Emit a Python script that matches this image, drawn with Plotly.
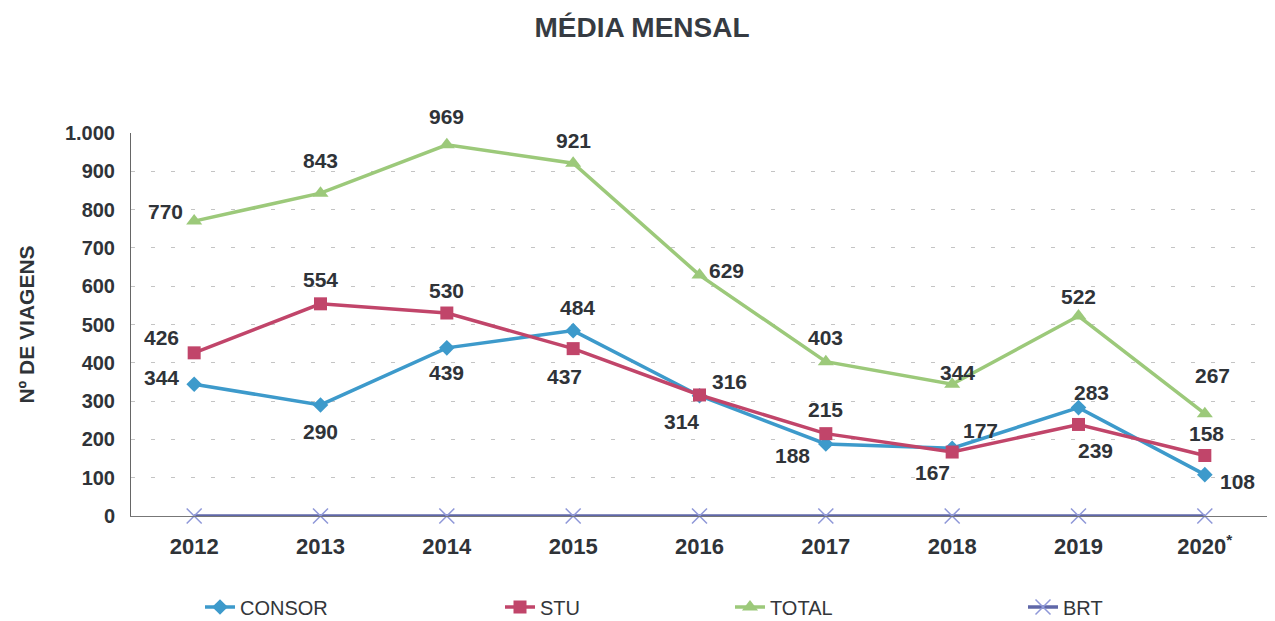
import plotly.graph_objects as go

years = [2012, 2013, 2014, 2015, 2016, 2017, 2018, 2019, 2020]
year_labels = ["2012", "2013", "2014", "2015", "2016", "2017", "2018", "2019", "2020<sup>*</sup>"]
consor = [344, 290, 439, 484, 314, 188, 177, 283, 108]
stu = [426, 554, 530, 437, 316, 215, 167, 239, 158]
total = [770, 843, 969, 921, 629, 403, 344, 522, 267]
brt = [0, 0, 0, 0, 0, 0, 0, 0, 0]

# label offsets in pixels (dx, dy up)
consor_off = [(-33, 7), (0, -27), (0, -25), (4, 23), (-18, -26), (-33, -11), (28, 18), (13, 15), (33, -7)]
stu_off = [(-33, 15), (0, 24), (0, 23), (-9, -28), (30, 13), (0, 24), (-20, -20), (17, -26), (2, 22)]
total_off = [(-29, 10), (0, 33), (0, 28), (0, 23), (27, 5), (0, 24), (5, 12), (0, 20), (8, 38)]

C_CONSOR = "#3d9acb"
C_STU = "#c1456a"
C_TOTAL = "#9cc97a"
C_BRT = "#5f67a8"
TXT = "#2f3338"
FONT = "Liberation Sans, Arial, sans-serif"

W, H = 1267, 613
L, R, T, B = 123, 7, 125, 105
PW, PH = W - L - R, H - T - B

fig = go.Figure()

series = [
    ("CONSOR", consor, C_CONSOR, dict(symbol="diamond", size=12), "legend"),
    ("STU", stu, C_STU, dict(symbol="square", size=13), "legend2"),
    ("TOTAL", total, C_TOTAL, dict(symbol="triangle-up", size=14), "legend3"),
    ("BRT", brt, C_BRT, dict(symbol="x-thin", size=15, line=dict(width=1.5, color="#8f98d8")), "legend4"),
]
for name, vals, col, mk, lg in series:
    fig.add_trace(go.Scatter(
        x=years, y=vals, name=name, mode="lines+markers",
        line=dict(color=col, width=3.5),
        marker=dict(color=col, **mk),
        legend=lg, cliponaxis=False, showlegend=True,
    ))

anns = []
for vals, offs in [(total, total_off), (stu, stu_off), (consor, consor_off)]:
    for yr, v, (dx, dy) in zip(years, vals, offs):
        anns.append(dict(
            x=yr, y=v, xref="x", yref="y", text=str(v), showarrow=False,
            xshift=dx, yshift=dy,
            font=dict(family=FONT, size=21, color=TXT, weight="bold"),
        ))


def leg(px):
    return dict(
        orientation="h", xref="paper", yref="paper",
        x=(px - L) / PW, xanchor="left",
        y=(H - B - 599) / PH, yanchor="middle",
        font=dict(family=FONT, size=20, color="#33363a"),
        bgcolor="rgba(0,0,0,0)", itemwidth=30,
    )


fig.update_layout(
    width=W, height=H,
    paper_bgcolor="white", plot_bgcolor="white",
    margin=dict(l=L, r=R, t=T, b=B, autoexpand=False),
    separators=",.",
    showlegend=True,
    title=dict(
        text="MÉDIA MENSAL", x=634 / W, xanchor="center",
        y=1 - 19 / H, yanchor="middle", xref="container", yref="container",
        font=dict(family=FONT, size=28, color="#363b42", weight="bold"),
    ),
    annotations=anns,
    legend=leg(192),
    legend2=leg(492),
    legend3=leg(722),
    legend4=leg(1015),
    xaxis=dict(
        range=[2011.5, 2020.5],
        tickmode="array", tickvals=years, ticktext=year_labels,
        showgrid=False, showline=True, linecolor="#777777", linewidth=1,
        zeroline=False, ticks="", ticklabelstandoff=11,
        tickfont=dict(family=FONT, size=22, color=TXT, weight="bold"),
    ),
    yaxis=dict(
        range=[0, 1000], dtick=100, tickformat=",d",
        showgrid=True, gridcolor="#c4c4c4", gridwidth=1, griddash="4px,16px",
        showline=True, linecolor="#666666", linewidth=1,
        zeroline=False, ticks="", ticklabelstandoff=11,
        tickfont=dict(family=FONT, size=20, color=TXT, weight="bold"),
        title=dict(text="Nº DE VIAGENS", standoff=24,
                   font=dict(family=FONT, size=21, color=TXT, weight="bold")),
    ),
)

fig.write_html("out.html")
